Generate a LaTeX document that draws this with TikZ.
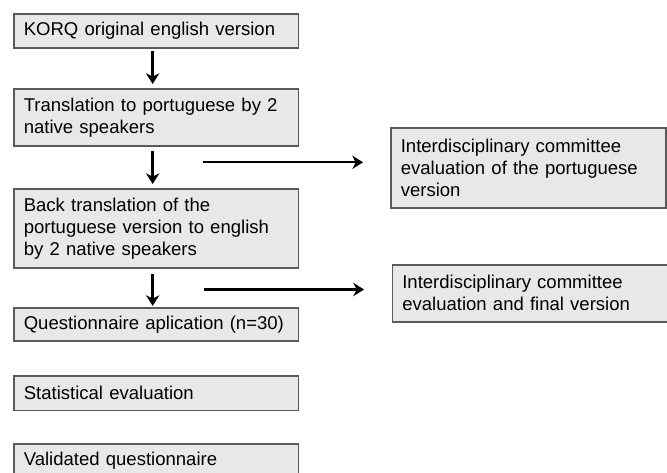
\documentclass[tikz,border=0pt]{standalone}
\usepackage{fontspec}
\setmainfont{Liberation Sans}
\usetikzlibrary{arrows.meta}
\definecolor{boxfill}{HTML}{E8E8E8}
\definecolor{boxline}{HTML}{5A5A5A}
\tikzset{
  box/.style={draw=boxline,line width=1.2pt,fill=boxfill,anchor=north west,
    align=left,inner xsep=7.5pt,inner ysep=0pt,
    font=\fontsize{13.9}{16.4}\selectfont},
  lbox/.style={box,text width=198.5pt},
  rbox/.style={box,text width=191.5pt},
  arr/.style={line width=1.8pt,-{Stealth[length=8pt,width=10pt,inset=2.5pt]}}
}
\begin{document}
\begin{tikzpicture}[x=0.75pt,y=-0.75pt]
\clip (0,0) rectangle (667,473);
\fill[white] (0,0) rectangle (667,473);
\node[lbox,minimum height=25.5pt] (korq) at (13,13) {KORQ original english version};
\node[lbox,minimum height=42.75pt] (transl) at (13,88) {Translation to portuguese by 2\\native speakers};
\node[lbox,minimum height=59.6pt] (backtr) at (13,188) {Back translation of the\\portuguese version to english\\by 2 native speakers};
\node[lbox,minimum height=24.75pt] (quest) at (13,307) {Questionnaire aplication (n=30)};
\node[lbox,minimum height=26pt] (stat) at (13,375) {Statistical evaluation};
\node[lbox,minimum height=25.5pt] (valid) at (13,443) {Validated questionnaire};
\node[rbox,minimum height=60pt] (evalpt) at (390,127) {Interdisciplinary committee\\evaluation of the portuguese\\version};
\node[rbox,minimum height=42.75pt] (evalfin) at (391.5,264) {Interdisciplinary committee\\evaluation and final version};
\draw[arr,shorten <=1.5pt,shorten >=3pt] ([xshift=-2.6pt]korq.south) -- ([xshift=-2.6pt]transl.north);
\draw[arr,shorten <=3pt,shorten >=3pt] ([xshift=-2.6pt]transl.south) -- ([xshift=-2.6pt]backtr.north);
\draw[arr,shorten <=4pt,shorten >=0.8pt] ([xshift=-2.6pt]backtr.south) -- ([xshift=-2.6pt]quest.north);
\coordinate (h1a) at (203,162.3);
\coordinate (h1b) at (363,162.3);
\coordinate (h2a) at (204,289.5);
\coordinate (h2b) at (364,289.5);
\draw[arr] (h1a) -- (h1b);
\draw[arr] (h2a) -- (h2b);
\end{tikzpicture}
\end{document}
